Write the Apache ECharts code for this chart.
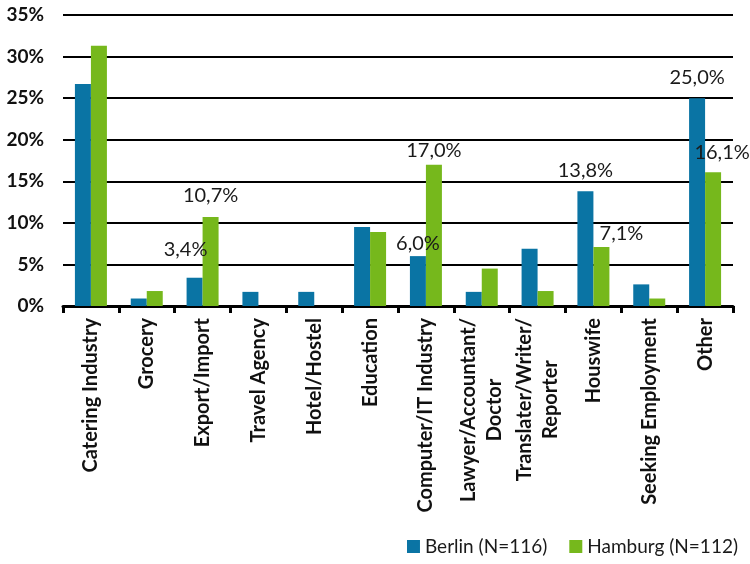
<!DOCTYPE html>
<html>
<head>
<meta charset="utf-8">
<script src="https://cdn.jsdelivr.net/npm/echarts@6/dist/echarts.min.js"></script>
<style>
  html, body { margin: 0; padding: 0; background: #fff; }
  #chart { width: 750px; height: 564px; }
</style>
</head>
<body>
<div id="chart"></div>
<script>
// Occupations, share of respondents per city (%)
var categories = [
  'Catering Industry', 'Grocery', 'Export/Import', 'Travel Agency', 'Hotel/Hostel',
  'Education', 'Computer/IT Industry', 'Lawyer/Accountant/\nDoctor',
  'Translater/Writer/\nReporter', 'Houswife', 'Seeking Employment', 'Other'
];
var berlin  = [26.7, 0.9, 3.4, 1.7, 1.7, 9.5, 6.0, 1.7, 6.9, 13.8, 2.6, 25.0];
var hamburg = [31.3, 1.8, 10.7, 0, 0, 8.9, 17.0, 4.5, 1.8, 7.1, 0.9, 16.1];
var seriesNames = ['Berlin (N=116)', 'Hamburg (N=112)'];
var yTicks = [0, 5, 10, 15, 20, 25, 30, 35];

// Which bars carry a value label, and the nudge each label gets [dx, dy]
var berlinLabelNudge  = { 2: [-9, -13], 6: [0, 2], 9: [0, -6], 11: [0, -6] };
var hamburgLabelNudge = { 2: [0, -6], 6: [0, 1], 9: [20, 2], 11: [9, -5] };

var FONT = 'Lato';

function fmtPct(v) {
  return v.toFixed(1).replace('.', ',') + '%';
}

function buildData(values, nudges) {
  return values.map(function (v, i) {
    var n = nudges[i];
    if (!n) return { value: v, label: { show: false } };
    return {
      value: v,
      label: {
        show: true,
        position: 'top',
        distance: 5,
        offset: n,
        formatter: function (p) { return fmtPct(p.value); },
        color: '#1a1a1a',
        fontFamily: FONT,
        fontSize: 20
      }
    };
  });
}

var chart = echarts.init(document.getElementById('chart'), null, { renderer: 'canvas' });

chart.setOption({
  animation: false,
  backgroundColor: '#fff',
  textStyle: { fontFamily: FONT },
  grid: { left: 63, right: 17, top: 15, bottom: 258, containLabel: false, outerBoundsMode: 'none' },
  legend: {
    data: seriesNames,
    right: 7,
    bottom: 3,
    icon: 'rect',
    itemWidth: 13,
    itemHeight: 13,
    itemGap: 22,
    textStyle: { fontFamily: FONT, fontSize: 19, color: '#1a1a1a' }
  },
  xAxis: {
    type: 'category',
    data: categories,
    axisLine: { show: true, lineStyle: { color: '#000', width: 3 } },
    axisTick: { show: true, length: 7, lineStyle: { color: '#000', width: 3 } },
    axisLabel: {
      interval: 0,
      rotate: 90,
      margin: 12,
      fontFamily: FONT,
      fontWeight: 'bold',
      fontSize: 20,
      lineHeight: 26,
      color: '#111',
      // each line is centred within the label block
      formatter: function (v) {
        return v.split('\n').map(function (s) { return '{c|' + s + '}'; }).join('\n');
      },
      rich: {
        c: {
          align: 'center',
          fontFamily: FONT,
          fontWeight: 'bold',
          fontSize: 20,
          lineHeight: 26,
          color: '#111'
        }
      }
    }
  },
  yAxis: {
    type: 'value',
    min: yTicks[0],
    max: yTicks[yTicks.length - 1],
    interval: yTicks[1] - yTicks[0],
    axisLine: { show: false },
    axisTick: { show: false },
    splitLine: { show: true, lineStyle: { color: '#000', width: 2 } },
    axisLabel: {
      margin: 19,
      formatter: '{value}%',
      fontFamily: FONT,
      fontWeight: 'bold',
      fontSize: 19,
      color: '#111'
    }
  },
  series: [
    {
      name: seriesNames[0],
      type: 'bar',
      barWidth: 16,
      barGap: '0%',
      itemStyle: { color: '#0a74a4' },
      data: buildData(berlin, berlinLabelNudge)
    },
    {
      name: seriesNames[1],
      type: 'bar',
      barWidth: 16,
      barGap: '0%',
      itemStyle: { color: '#76b81c' },
      data: buildData(hamburg, hamburgLabelNudge)
    }
  ]
});
</script>
</body>
</html>
